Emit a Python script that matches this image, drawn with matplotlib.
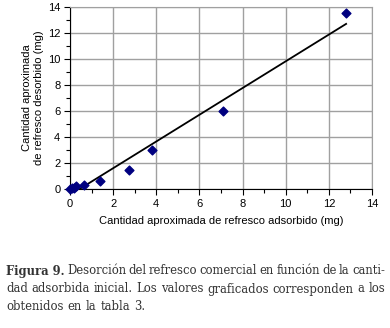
import numpy as np
import matplotlib
matplotlib.use("Agg")
import matplotlib.pyplot as plt
from matplotlib.ticker import MultipleLocator

# valores (mg)
adsorbido = [0.0, 0.08, 0.2, 0.3, 0.65, 1.37, 2.75, 3.8, 7.1, 12.8]
desorbido = [0.0, 0.05, 0.1, 0.2, 0.3, 0.65, 1.5, 3.0, 6.0, 13.5]
ticks = [0, 2, 4, 6, 8, 10, 12, 14]

caption_lines = [
    ["Figura 9.", "Desorción", "del", "refresco", "comercial", "en", "función", "de", "la", "canti-"],
    ["dad", "adsorbida", "inicial.", "Los", "valores", "graficados", "corresponden", "a", "los"],
    ["obtenidos", "en", "la", "tabla", "3."],
]

plt.rcParams['font.family'] = ['Liberation Sans', 'DejaVu Sans']

fig = plt.figure(figsize=(3.9, 3.28), dpi=100)
ax = fig.add_axes([70/390, 1 - 189/328, 302/390, 182/328])

# linea de tendencia
a, b = np.polyfit(adsorbido, desorbido, 1)
xs = np.array([0, max(adsorbido)])
ax.plot(xs, a*xs + b, color='black', lw=1.3, zorder=3)
ax.scatter(adsorbido, desorbido, marker='D', s=20, color='#000080', zorder=4, clip_on=False)

ax.set_xlim(0, 14)
ax.set_ylim(0, 14)
ax.set_xticks(ticks)
ax.set_yticks(ticks)
ax.xaxis.set_minor_locator(MultipleLocator(1))
ax.yaxis.set_minor_locator(MultipleLocator(1))
ax.grid(True, which='major', color='#a0a0a0', lw=1)
ax.set_axisbelow(True)
ax.tick_params(which='major', direction='out', length=4, width=0.8, labelsize=8, pad=3)
ax.tick_params(which='minor', direction='out', length=3, width=0.8)
for s in ['top', 'right']:
    ax.spines[s].set_color('#a0a0a0')
for s in ['left', 'bottom']:
    ax.spines[s].set_color('black')
    ax.spines[s].set_linewidth(0.8)

ax.set_xlabel("Cantidad aproximada de refresco adsorbido (mg)", fontsize=8, labelpad=5)
ax.set_ylabel("Cantidad aproximada\nde refresco desorbido (mg)", fontsize=8, labelpad=3)

# pie de figura justificado
renderer = fig.canvas.get_renderer()
x0, x1 = 6, 385
ys = [271, 289, 306]
for li, words in enumerate(caption_lines):
    texts = []
    for w in words:
        weight = 'bold' if w == "Figura 9." else 'normal'
        t = fig.text(0, 1 - ys[li]/328, w, fontsize=9.3, family='DejaVu Serif',
                     stretch='condensed', color='#333333', va='center', ha='left',
                     weight=weight)
        texts.append(t)
    widths = [t.get_window_extent(renderer).width for t in texts]
    if li < len(caption_lines) - 1:
        gap = (x1 - x0 - sum(widths)) / (len(words) - 1)
    else:
        gap = 4
    x = x0
    for t, wd in zip(texts, widths):
        t.set_x(x / 390)
        x += wd + gap

fig.savefig("out.png", dpi=100)
